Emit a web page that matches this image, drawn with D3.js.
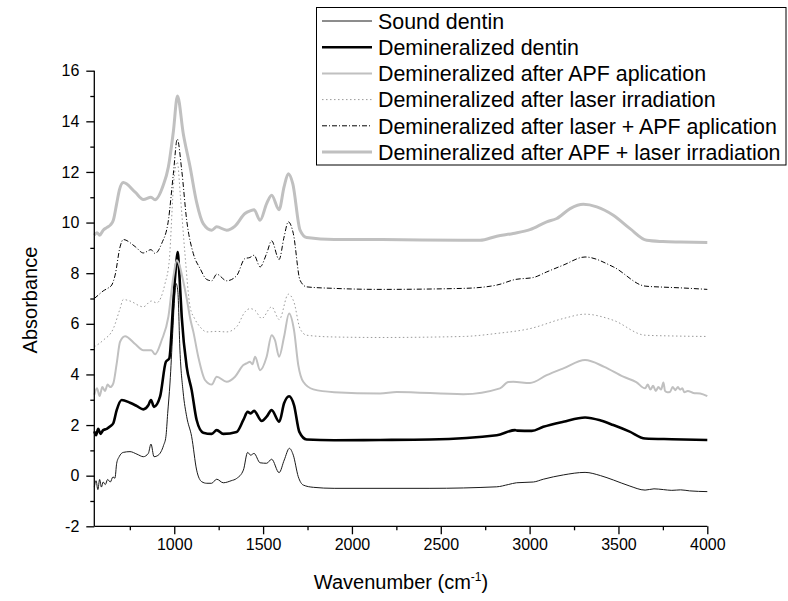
<!DOCTYPE html>
<html><head><meta charset="utf-8">
<script src="https://cdn.jsdelivr.net/npm/d3@7"></script>
<style>
html,body{margin:0;padding:0;background:#fff;}
svg{display:block;font-family:"Liberation Sans",Arial,sans-serif;}
</style></head>
<body><svg id="chart" width="788" height="601"></svg>
<script>
// ---- data ----
const xTicks = [1000,1500,2000,2500,3000,3500,4000];
const yTicks = [-2,0,2,4,6,8,10,12,14,16];
const seriesNames = ["Sound dentin","Demineralized dentin","Demineralized after APF aplication","Demineralized after laser irradiation","Demineralized after laser + APF aplication","Demineralized after APF + laser irradiation"];

const soundWn  = [550,560,570,580,590,600,612,625,640,655,666,676,690,713,751,790,826,854,869,886,910,940,953,963,976,991,1000,1010,1020,1032,1050,1070,1098,1126,1155,1183,1210,1239,1276,1320,1351,1389,1413,1430,1449,1483,1520,1548,1590,1619,1648,1670,1698,1726,1783,1900,2158,2439,2815,2880,2927,3021,3077,3190,3312,3400,3471,3560,3650,3700,3753,3800,3850,3900,4000];
const soundAbs = [-0.45,-0.2,-0.55,-0.15,-0.45,-0.25,-0.35,-0.15,-0.25,-0.05,-0.1,0.49,0.75,0.92,0.95,0.85,0.75,0.88,1.25,0.75,0.81,1.2,1.54,2.46,3.66,5.62,6.8,7.59,7.3,4.96,3.3,2.33,1.54,0.22,-0.24,-0.30,-0.3,-0.14,-0.28,-0.2,-0.11,0.22,0.92,0.81,0.88,0.51,0.49,0.65,0.12,0.62,1.08,0.81,-0.04,-0.37,-0.46,-0.5,-0.5,-0.5,-0.44,-0.35,-0.28,-0.25,-0.14,0.03,0.13,0.0,-0.17,-0.4,-0.57,-0.52,-0.55,-0.58,-0.56,-0.6,-0.63];

const demWn  = [550,560,572,585,600,620,640,657,676,704,751,790,826,854,869,886,920,953,972,995,1010,1019,1030,1042,1070,1098,1126,1163,1211,1239,1276,1351,1389,1413,1430,1449,1492,1520,1548,1591,1618,1646,1674,1704,1745,1900,2158,2439,2815,2918,2930,3012,3077,3190,3312,3400,3471,3560,3650,3800,4000];
const demAbs = [1.75,1.6,1.85,1.65,1.8,1.85,1.95,2.07,2.59,2.99,2.88,2.75,2.62,2.78,2.99,2.72,3.12,4.5,4.63,6.93,8.3,8.84,7.8,6.28,4.3,3.38,2.2,1.7,1.65,1.8,1.65,1.73,2.2,2.52,2.46,2.56,2.16,2.33,2.59,2.13,2.86,3.14,2.79,1.73,1.43,1.4,1.41,1.43,1.6,1.8,1.78,1.77,1.93,2.13,2.30,2.18,2.0,1.75,1.47,1.44,1.41];

const apfWn  = [550,565,580,595,610,625,640,657,676,695,723,780,826,871,892,929,967,995,1014,1030,1050,1070,1090,1107,1135,1173,1211,1239,1295,1342,1389,1410,1426,1440,1455,1483,1520,1548,1567,1590,1618,1646,1674,1698,1726,1783,1900,2158,2252,2627,2833,2880,2908,3002,3096,3190,3312,3420,3527,3600,3650,3665,3680,3695,3710,3725,3740,3753,3762,3775,3790,3805,3820,3835,3846,3860,3870,3890,3921,3960,4000];
const apfAbs = [3.2,3.45,3.15,3.5,3.35,3.6,3.5,3.65,4.43,5.29,5.51,5.2,4.96,4.96,4.8,5.35,6.28,7.86,8.51,8.3,7.7,7.0,6.2,5.7,4.7,3.78,3.6,3.91,3.71,3.91,4.37,4.45,4.5,4.4,4.7,4.17,4.7,5.55,5.35,4.70,5.49,6.41,5.75,4.37,3.71,3.41,3.3,3.25,3.31,3.22,3.45,3.7,3.71,3.66,3.97,4.24,4.57,4.3,3.91,3.7,3.45,3.6,3.4,3.55,3.35,3.5,3.4,3.68,3.35,3.3,3.31,3.5,3.38,3.5,3.4,3.45,3.3,3.35,3.27,3.25,3.14];

const laserWn  = [550,600,657,695,713,751,826,871,901,948,972,998,1017,1035,1060,1089,1115,1145,1183,1239,1295,1351,1398,1426,1455,1492,1548,1591,1642,1674,1708,1745,1900,2158,2627,2815,3002,3190,3312,3471,3650,3800,4000];
const laserAbs = [5.09,5.35,5.81,6.6,6.96,6.9,6.67,6.9,6.83,7.59,8.51,11.67,12.4,11.0,8.78,6.67,6.2,5.88,5.68,5.7,5.68,5.88,6.47,6.6,6.53,6.21,6.67,6.17,7.17,6.85,5.81,5.55,5.48,5.46,5.5,5.62,5.81,6.21,6.38,6.14,5.55,5.52,5.5];

const laserApfWn  = [550,575,600,625,648,667,695,713,780,826,869,892,929,967,995,1017,1042,1070,1107,1145,1183,1211,1239,1295,1351,1398,1426,1449,1483,1520,1548,1590,1618,1642,1670,1708,1745,1900,2158,2627,2815,2918,3021,3096,3190,3312,3471,3650,3750,3850,4000];
const laserApfAbs = [7.0,7.15,7.3,7.4,7.53,7.92,9.04,9.33,9.05,8.8,8.93,8.78,9.17,10.09,11.93,13.3,12.07,10.09,8.78,8.19,7.75,7.7,7.96,7.7,7.9,8.58,8.62,8.71,8.25,8.78,9.28,8.54,9.43,10.03,9.57,7.72,7.46,7.4,7.36,7.4,7.53,7.75,7.83,8.05,8.32,8.64,8.25,7.49,7.45,7.42,7.36];

const apfLaserWn  = [550,565,580,600,620,640,657,676,691,713,780,826,869,892,938,967,995,1018,1051,1089,1126,1163,1211,1239,1295,1342,1398,1430,1449,1483,1520,1548,1590,1618,1642,1667,1708,1745,1900,2158,2627,2721,2815,2908,3002,3096,3153,3228,3302,3378,3471,3565,3659,3750,3850,4000];
const apfLaserAbs = [9.5,9.6,9.5,9.7,9.8,9.9,10.09,10.75,11.28,11.58,11.2,10.91,11.0,10.9,11.47,12.2,13.6,15.0,13.5,12.2,10.8,9.96,9.7,9.83,9.7,9.86,10.36,10.47,10.51,10.09,10.75,11.08,10.51,11.41,11.93,11.54,9.70,9.41,9.33,9.33,9.3,9.3,9.46,9.57,9.72,10.03,10.16,10.55,10.72,10.62,10.29,9.76,9.30,9.25,9.23,9.21];

// ---- styles ----
const styles = [
  {stroke:"#1a1a1a", width:1.0, dash:null},
  {stroke:"#000000", width:2.6, dash:null},
  {stroke:"#c0c0c0", width:2.0, dash:null},
  {stroke:"#9a9a9a", width:1.0, dash:"1.5,2.5"},
  {stroke:"#000000", width:1.0, dash:"5,2,1,2"},
  {stroke:"#c0c0c0", width:3.0, dash:null}
];
const wnArrays = [soundWn, demWn, apfWn, laserWn, laserApfWn, apfLaserWn];
const absArrays = [soundAbs, demAbs, apfAbs, laserAbs, laserApfAbs, apfLaserAbs];

const svg = d3.select("#chart");
const x = d3.scaleLinear().domain([550,4000]).range([94.3,707.3]);
const y = d3.scaleLinear().domain([-2,16]).range([526.3,70.7]);

const line = d3.line().x(d=>x(d[0])).y(d=>y(d[1])).curve(d3.curveMonotoneX);

const g = svg.append("g");
wnArrays.forEach((wn,i)=>{
  const pts = wn.map((w,j)=>[w, absArrays[i][j]]);
  g.append("path").datum(pts)
    .attr("d", line)
    .attr("fill","none")
    .attr("stroke", styles[i].stroke)
    .attr("stroke-width", styles[i].width)
    .attr("stroke-dasharray", styles[i].dash)
    .attr("stroke-linejoin","round");
});

// axes
const fmt = d => String(d);
const xAxis = d3.axisBottom(x).tickValues(xTicks).tickSize(8).tickPadding(4).tickFormat(fmt);
const xMinor = d3.axisBottom(x).tickValues([750,1250,1750,2250,2750,3250,3750]).tickSize(4).tickFormat("");
const yAxis = d3.axisLeft(y).tickValues(yTicks).tickSize(8).tickPadding(7).tickFormat(fmt);
const yMinor = d3.axisLeft(y).tickValues([-1,1,3,5,7,9,11,13,15]).tickSize(4).tickFormat("");

function styleAxis(sel){
  sel.selectAll("path").attr("stroke","#000").attr("stroke-width",1.3);
  sel.selectAll("line").attr("stroke","#000").attr("stroke-width",1.3);
  sel.selectAll("text").attr("fill","#000").attr("font-size","16px").attr("font-family","'Liberation Sans',Arial,sans-serif");
}
const gx = svg.append("g").attr("transform","translate(0,526.3)").call(xAxis).call(styleAxis);
gx.select(".domain").attr("d", `M${x(550)},0H${x(4000)}`);
svg.append("g").attr("transform","translate(0,526.3)").call(xMinor).call(styleAxis).select(".domain").remove();
const gy = svg.append("g").attr("transform","translate(94.3,0)").call(yAxis).call(styleAxis);
gy.select(".domain").attr("d", `M0,${y(16)}V${y(-2)}`);
svg.append("g").attr("transform","translate(94.3,0)").call(yMinor).call(styleAxis).select(".domain").remove();

// axis titles
const xt = svg.append("text").attr("x", 401).attr("y", 589).attr("text-anchor","middle")
  .attr("font-size","20px").attr("fill","#000");
xt.append("tspan").text("Wavenumber (cm");
xt.append("tspan").attr("dy",-8).attr("font-size","12px").text("-1");
xt.append("tspan").attr("dy",8).text(")");

svg.append("text").attr("transform","translate(37,300) rotate(-90)")
  .attr("text-anchor","middle").attr("font-size","20px").attr("fill","#000").text("Absorbance");

// legend
const lg = svg.append("g");
lg.append("rect").attr("x",316.5).attr("y",7.5).attr("width",469.5).attr("height",157.5)
  .attr("fill","#fff").attr("stroke","#000").attr("stroke-width",1);
seriesNames.forEach((name,i)=>{
  const cy = 21 + i*26.2;
  lg.append("line").attr("x1",322).attr("x2",372).attr("y1",cy).attr("y2",cy)
    .attr("stroke",styles[i].stroke).attr("stroke-width",styles[i].width)
    .attr("stroke-dasharray",styles[i].dash);
  lg.append("text").attr("x",378).attr("y",cy).attr("dy","0.36em")
    .attr("font-size","21.4px").attr("fill","#000").text(name);
});
</script></body></html>
